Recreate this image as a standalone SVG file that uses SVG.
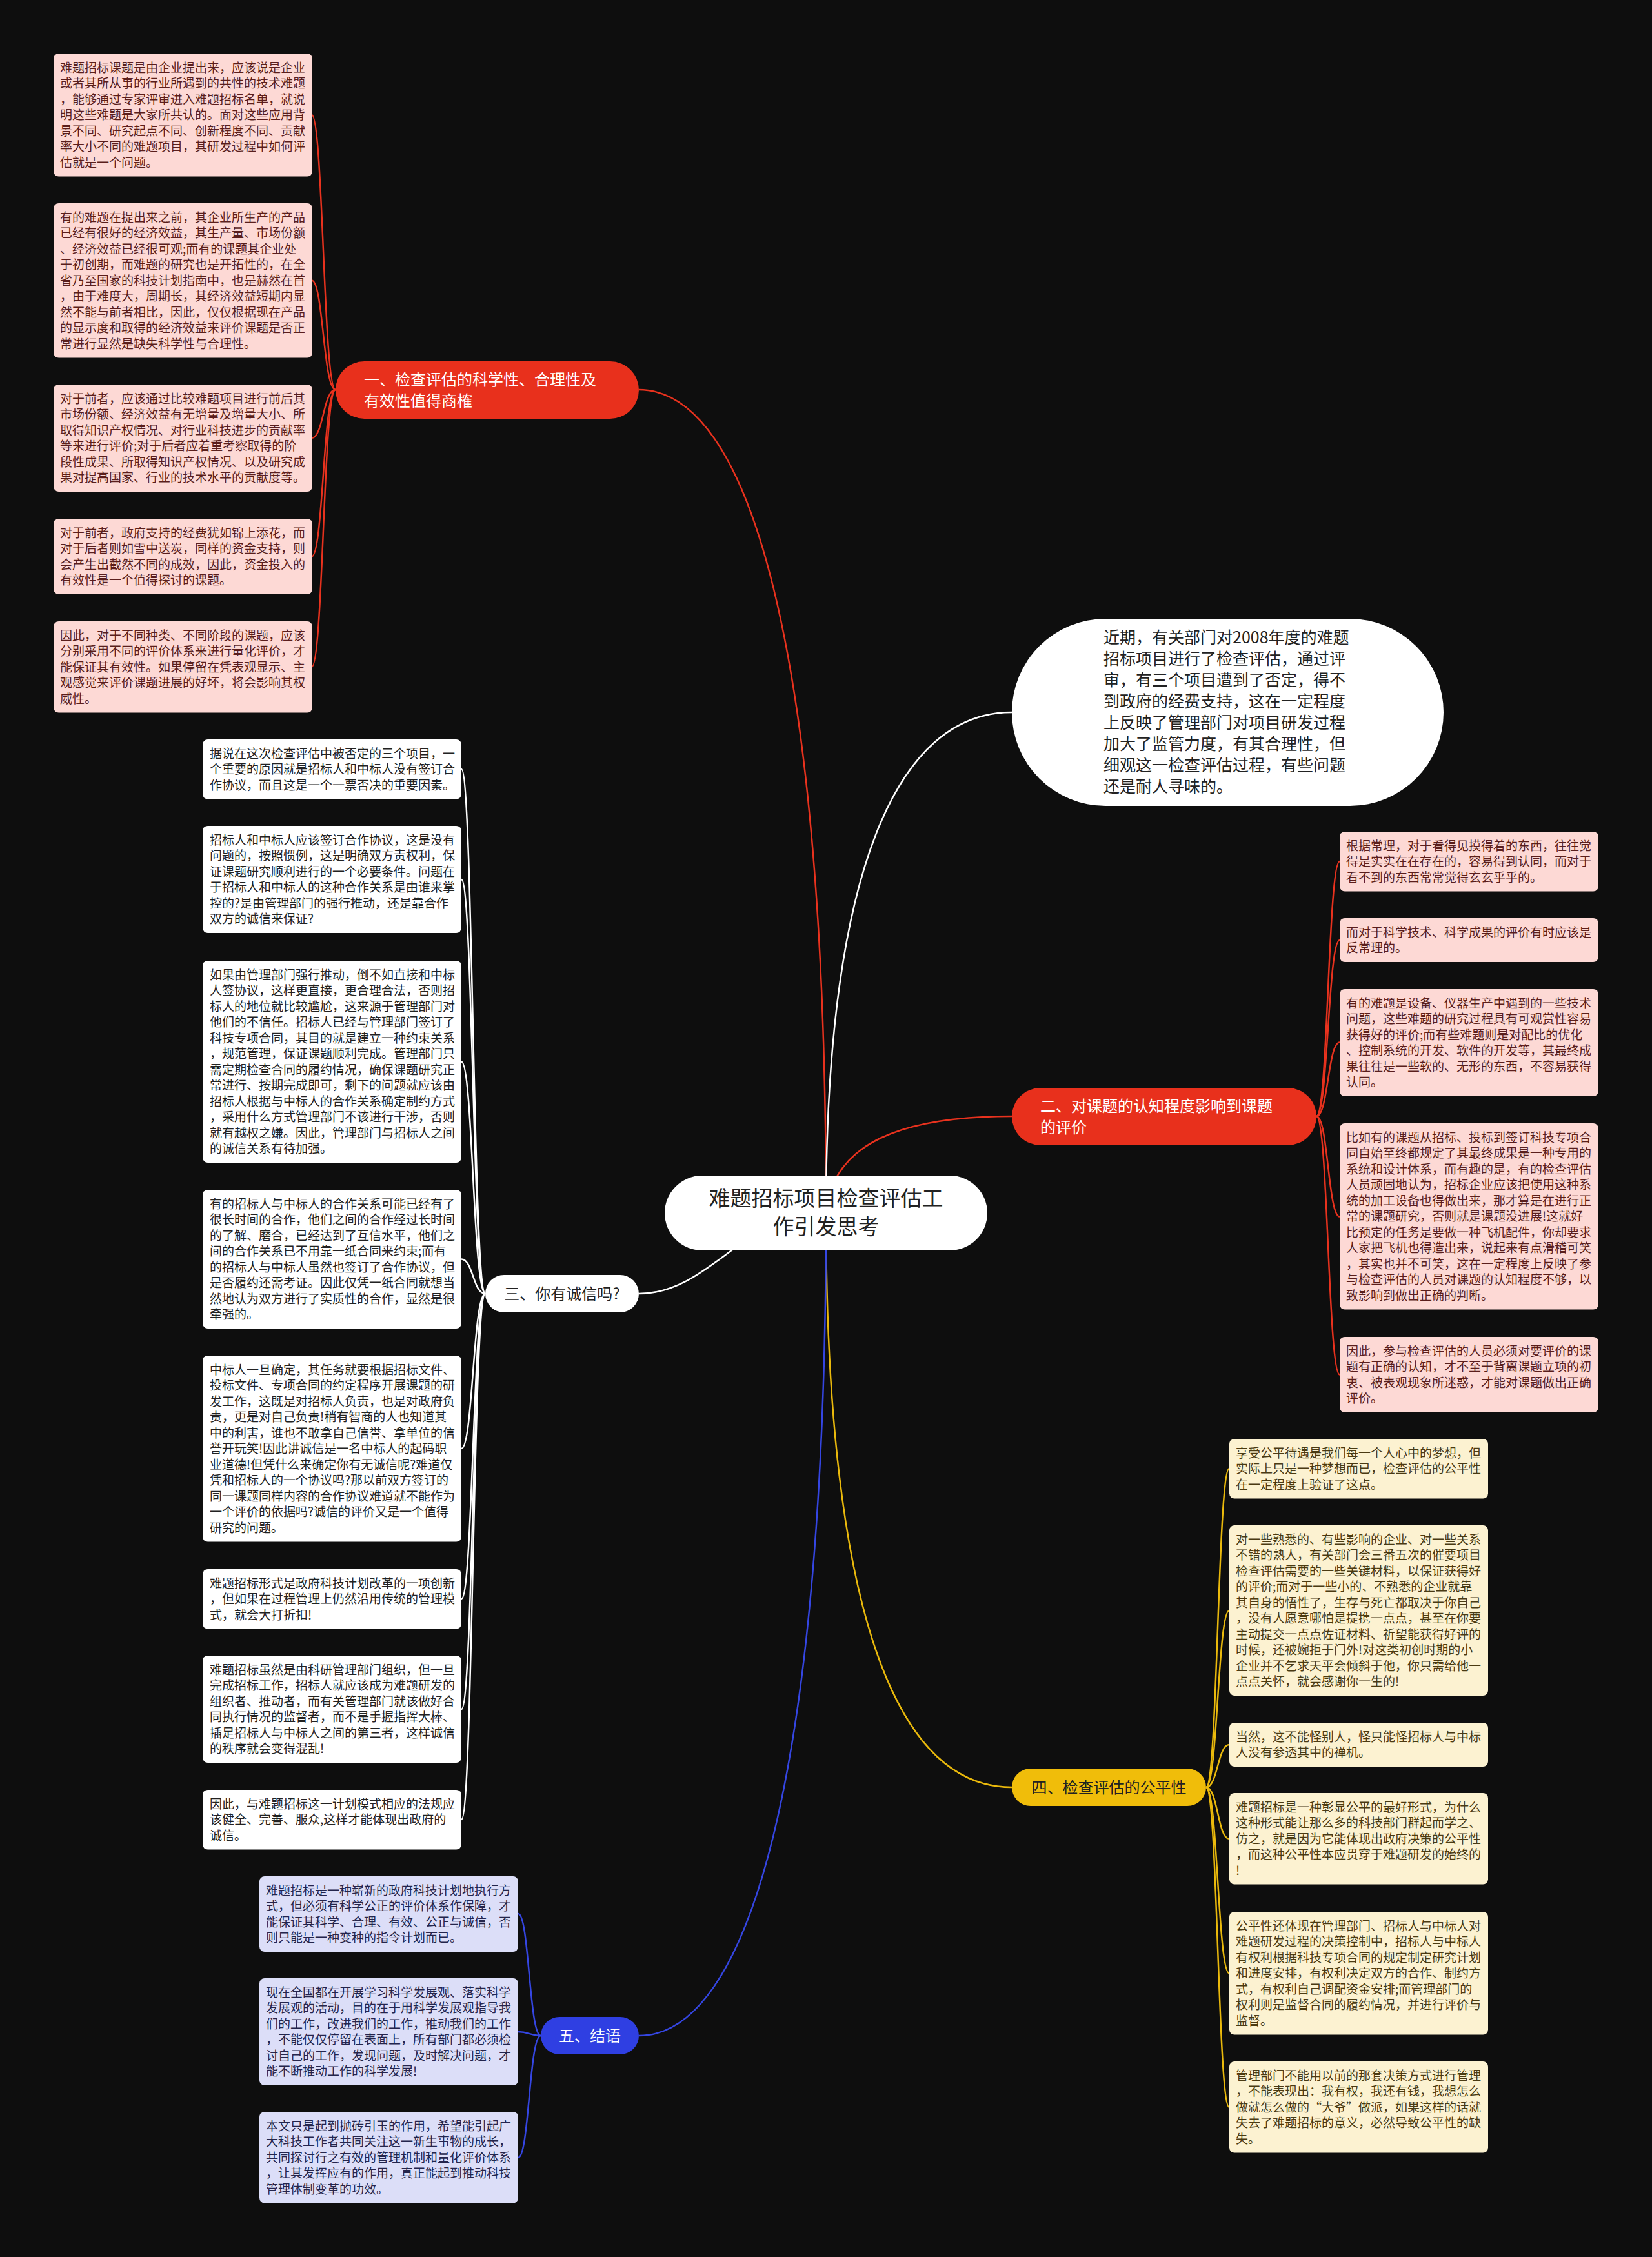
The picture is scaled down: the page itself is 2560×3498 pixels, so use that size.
<svg xmlns="http://www.w3.org/2000/svg" width="2560" height="3498" viewBox="0 0 2560 3498">
<style>
text{font-family:"Noto Sans CJK SC","Noto Sans",sans-serif}
.lt{font-size:19px}
.p{fill:#5a1e1c}.w{fill:#222222}.c{fill:#4a3a12}.b{fill:#24254c}
.rp{fill:#fdd9d5}.rw{fill:#ffffff}.rc{fill:#fcf2d1}.rb{fill:#dcdef8}
.cn path{fill:none;stroke-width:2.5}
.red{stroke:#e8321e}.wht{stroke:#ffffff}.yel{stroke:#eab90c}.blu{stroke:#3546e2}
.bt{font-size:24px}
</style>
<rect x="0" y="0" width="2560" height="3498" fill="#0e0e0e"/>
<g class="cn" id="connectors">
<path class="red" d="M1280 1880 C1280 1000,1160 604,990 604"/>
<path class="wht" d="M1280 1880 C1280 1350,1390 1104,1568 1104"/>
<path class="red" d="M1280 1880 C1290 1770,1400 1730,1568 1730"/>
<path class="wht" d="M1280 1880 C1150 1880,1100 2005,990 2005"/>
<path class="yel" d="M1280 1880 C1280 2500,1390 2770,1568 2770"/>
<path class="blu" d="M1280 1880 C1280 2750,1160 3155,990 3155"/>
<path class="red" d="M520 604 C501 604,501 178,483 178"/>
<path class="red" d="M520 604 C501 604,501 434.5,483 434.5"/>
<path class="red" d="M520 604 C501 604,501 679,483 679"/>
<path class="red" d="M520 604 C501 604,501 862.5,483 862.5"/>
<path class="red" d="M520 604 C501 604,501 1033.5,483 1033.5"/>
<path class="red" d="M2040 1730 C2058 1730,2058 1335,2076 1335"/>
<path class="red" d="M2040 1730 C2058 1730,2058 1457,2076 1457"/>
<path class="red" d="M2040 1730 C2058 1730,2058 1615.5,2076 1615.5"/>
<path class="red" d="M2040 1730 C2058 1730,2058 1885.5,2076 1885.5"/>
<path class="red" d="M2040 1730 C2058 1730,2058 2130.5,2076 2130.5"/>
<path class="wht" d="M752 2005 C733 2005,733 1192,715 1192"/>
<path class="wht" d="M752 2005 C733 2005,733 1363,715 1363"/>
<path class="wht" d="M752 2005 C733 2005,733 1645.5,715 1645.5"/>
<path class="wht" d="M752 2005 C733 2005,733 1951.5,715 1951.5"/>
<path class="wht" d="M752 2005 C733 2005,733 2245,715 2245"/>
<path class="wht" d="M752 2005 C733 2005,733 2478,715 2478"/>
<path class="wht" d="M752 2005 C733 2005,733 2649,715 2649"/>
<path class="wht" d="M752 2005 C733 2005,733 2820,715 2820"/>
<path class="yel" d="M1869 2770 C1887 2770,1887 2276,1905 2276"/>
<path class="yel" d="M1869 2770 C1887 2770,1887 2496,1905 2496"/>
<path class="yel" d="M1869 2770 C1887 2770,1887 2704,1905 2704"/>
<path class="yel" d="M1869 2770 C1887 2770,1887 2850,1905 2850"/>
<path class="yel" d="M1869 2770 C1887 2770,1887 3058.5,1905 3058.5"/>
<path class="yel" d="M1869 2770 C1887 2770,1887 3266,1905 3266"/>
<path class="blu" d="M838 3155 C820 3155,820 2966,803 2966"/>
<path class="blu" d="M838 3155 C820 3155,820 3149,803 3149"/>
<path class="blu" d="M838 3155 C820 3155,820 3344,803 3344"/>
</g>

<g id="center">
<rect x="1030" y="1822" width="500" height="116" rx="58" fill="#ffffff"/>
<text x="1280" y="1869" font-size="33" fill="#222" text-anchor="middle">难题招标项目检查评估工</text>
<text x="1280" y="1913" font-size="33" fill="#222" text-anchor="middle">作引发思考</text>
</g>

<g id="intro">
<rect x="1568" y="959" width="669" height="290" rx="145" fill="#ffffff"/>
<text font-size="25" fill="#222">
<tspan x="1710" y="997">近期，有关部门对2008年度的难题</tspan>
<tspan x="1710" dy="33">招标项目进行了检查评估，通过评</tspan>
<tspan x="1710" dy="33">审，有三个项目遭到了否定，得不</tspan>
<tspan x="1710" dy="33">到政府的经费支持，这在一定程度</tspan>
<tspan x="1710" dy="33">上反映了管理部门对项目研发过程</tspan>
<tspan x="1710" dy="33">加大了监管力度，有其合理性，但</tspan>
<tspan x="1710" dy="33">细观这一检查评估过程，有些问题</tspan>
<tspan x="1710" dy="33">还是耐人寻味的。</tspan>
</text>
</g>

<g id="branch1">
<rect x="520" y="560" width="470" height="89" rx="44.5" fill="#e8301c"/>
<text class="bt" fill="#ffffff"><tspan x="564" y="597">一、检查评估的科学性、合理性及</tspan><tspan x="564" dy="33">有效性值得商榷</tspan></text>
</g>
<g id="branch2">
<rect x="1568" y="1686" width="472" height="89" rx="44.5" fill="#e8301c"/>
<text class="bt" fill="#ffffff"><tspan x="1612" y="1723">二、对课题的认知程度影响到课题</tspan><tspan x="1612" dy="33">的评价</tspan></text>
</g>
<g id="branch3">
<rect x="752" y="1976" width="238" height="58" rx="29" fill="#ffffff"/>
<text class="bt" x="871" y="2013.5" fill="#222" text-anchor="middle">三、你有诚信吗?</text>
</g>
<g id="branch4">
<rect x="1568" y="2741" width="301" height="58" rx="29" fill="#f0bd0a"/>
<text class="bt" x="1718.5" y="2778.5" fill="#222" text-anchor="middle">四、检查评估的公平性</text>
</g>
<g id="branch5">
<rect x="838" y="3126" width="152" height="58" rx="29" fill="#2f3fe2"/>
<text class="bt" x="914" y="3163.5" fill="#ffffff" text-anchor="middle">五、结语</text>
</g>

<g id="b1-1"><rect class="rp" x="83" y="83" width="401" height="190.5" rx="8"/>
<text class="lt p"><tspan x="93" y="111.5">难题招标课题是由企业提出来，应该说是企业</tspan><tspan x="93" dy="24.5">或者其所从事的行业所遇到的共性的技术难题</tspan><tspan x="93" dy="24.5">，能够通过专家评审进入难题招标名单，就说</tspan><tspan x="93" dy="24.5">明这些难题是大家所共认的。面对这些应用背</tspan><tspan x="93" dy="24.5">景不同、研究起点不同、创新程度不同、贡献</tspan><tspan x="93" dy="24.5">率大小不同的难题项目，其研发过程中如何评</tspan><tspan x="93" dy="24.5">估就是一个问题。</tspan></text></g>
<g id="b1-2"><rect class="rp" x="83" y="315" width="401" height="239.5" rx="8"/>
<text class="lt p"><tspan x="93" y="343.5">有的难题在提出来之前，其企业所生产的产品</tspan><tspan x="93" dy="24.5">已经有很好的经济效益，其生产量、市场份额</tspan><tspan x="93" dy="24.5">、经济效益已经很可观;而有的课题其企业处</tspan><tspan x="93" dy="24.5">于初创期，而难题的研究也是开拓性的，在全</tspan><tspan x="93" dy="24.5">省乃至国家的科技计划指南中，也是赫然在首</tspan><tspan x="93" dy="24.5">，由于难度大，周期长，其经济效益短期内显</tspan><tspan x="93" dy="24.5">然不能与前者相比，因此，仅仅根据现在产品</tspan><tspan x="93" dy="24.5">的显示度和取得的经济效益来评价课题是否正</tspan><tspan x="93" dy="24.5">常进行显然是缺失科学性与合理性。</tspan></text></g>
<g id="b1-3"><rect class="rp" x="83" y="596" width="401" height="166" rx="8"/>
<text class="lt p"><tspan x="93" y="624.5">对于前者，应该通过比较难题项目进行前后其</tspan><tspan x="93" dy="24.5">市场份额、经济效益有无增量及增量大小、所</tspan><tspan x="93" dy="24.5">取得知识产权情况、对行业科技进步的贡献率</tspan><tspan x="93" dy="24.5">等来进行评价;对于后者应着重考察取得的阶</tspan><tspan x="93" dy="24.5">段性成果、所取得知识产权情况、以及研究成</tspan><tspan x="93" dy="24.5">果对提高国家、行业的技术水平的贡献度等。</tspan></text></g>
<g id="b1-4"><rect class="rp" x="83" y="804" width="401" height="117" rx="8"/>
<text class="lt p"><tspan x="93" y="832.5">对于前者，政府支持的经费犹如锦上添花，而</tspan><tspan x="93" dy="24.5">对于后者则如雪中送炭，同样的资金支持，则</tspan><tspan x="93" dy="24.5">会产生出截然不同的成效，因此，资金投入的</tspan><tspan x="93" dy="24.5">有效性是一个值得探讨的课题。</tspan></text></g>
<g id="b1-5"><rect class="rp" x="83" y="963" width="401" height="141.5" rx="8"/>
<text class="lt p"><tspan x="93" y="991.5">因此，对于不同种类、不同阶段的课题，应该</tspan><tspan x="93" dy="24.5">分别采用不同的评价体系来进行量化评价，才</tspan><tspan x="93" dy="24.5">能保证其有效性。如果停留在凭表观显示、主</tspan><tspan x="93" dy="24.5">观感觉来评价课题进展的好坏，将会影响其权</tspan><tspan x="93" dy="24.5">威性。</tspan></text></g>

<g id="b2-1"><rect class="rp" x="2076" y="1289" width="401" height="92.5" rx="8"/>
<text class="lt p"><tspan x="2086" y="1317.5">根据常理，对于看得见摸得着的东西，往往觉</tspan><tspan x="2086" dy="24.5">得是实实在在存在的，容易得到认同，而对于</tspan><tspan x="2086" dy="24.5">看不到的东西常常觉得玄玄乎乎的。</tspan></text></g>
<g id="b2-2"><rect class="rp" x="2076" y="1423" width="401" height="68" rx="8"/>
<text class="lt p"><tspan x="2086" y="1451.5">而对于科学技术、科学成果的评价有时应该是</tspan><tspan x="2086" dy="24.5">反常理的。</tspan></text></g>
<g id="b2-3"><rect class="rp" x="2076" y="1533" width="401" height="166" rx="8"/>
<text class="lt p"><tspan x="2086" y="1561.5">有的难题是设备、仪器生产中遇到的一些技术</tspan><tspan x="2086" dy="24.5">问题，这些难题的研究过程具有可观赏性容易</tspan><tspan x="2086" dy="24.5">获得好的评价;而有些难题则是对配比的优化</tspan><tspan x="2086" dy="24.5">、控制系统的开发、软件的开发等，其最终成</tspan><tspan x="2086" dy="24.5">果往往是一些软的、无形的东西，不容易获得</tspan><tspan x="2086" dy="24.5">认同。</tspan></text></g>
<g id="b2-4"><rect class="rp" x="2076" y="1741" width="401" height="288.5" rx="8"/>
<text class="lt p"><tspan x="2086" y="1769.5">比如有的课题从招标、投标到签订科技专项合</tspan><tspan x="2086" dy="24.5">同自始至终都规定了其最终成果是一种专用的</tspan><tspan x="2086" dy="24.5">系统和设计体系，而有趣的是，有的检查评估</tspan><tspan x="2086" dy="24.5">人员顽固地认为，招标企业应该把使用这种系</tspan><tspan x="2086" dy="24.5">统的加工设备也得做出来，那才算是在进行正</tspan><tspan x="2086" dy="24.5">常的课题研究，否则就是课题没进展!这就好</tspan><tspan x="2086" dy="24.5">比预定的任务是要做一种飞机配件，你却要求</tspan><tspan x="2086" dy="24.5">人家把飞机也得造出来，说起来有点滑稽可笑</tspan><tspan x="2086" dy="24.5">，其实也并不可笑，这在一定程度上反映了参</tspan><tspan x="2086" dy="24.5">与检查评估的人员对课题的认知程度不够，以</tspan><tspan x="2086" dy="24.5">致影响到做出正确的判断。</tspan></text></g>
<g id="b2-5"><rect class="rp" x="2076" y="2072" width="401" height="117" rx="8"/>
<text class="lt p"><tspan x="2086" y="2100.5">因此，参与检查评估的人员必须对要评价的课</tspan><tspan x="2086" dy="24.5">题有正确的认知，才不至于背离课题立项的初</tspan><tspan x="2086" dy="24.5">衷、被表观现象所迷惑，才能对课题做出正确</tspan><tspan x="2086" dy="24.5">评价。</tspan></text></g>

<g id="b3-1"><rect class="rw" x="314" y="1146" width="401" height="92.5" rx="8"/>
<text class="lt w"><tspan x="325" y="1174.5">据说在这次检查评估中被否定的三个项目，一</tspan><tspan x="325" dy="24.5">个重要的原因就是招标人和中标人没有签订合</tspan><tspan x="325" dy="24.5">作协议，而且这是一个一票否决的重要因素。</tspan></text></g>
<g id="b3-2"><rect class="rw" x="314" y="1280" width="401" height="166" rx="8"/>
<text class="lt w"><tspan x="325" y="1308.5">招标人和中标人应该签订合作协议，这是没有</tspan><tspan x="325" dy="24.5">问题的，按照惯例，这是明确双方责权利，保</tspan><tspan x="325" dy="24.5">证课题研究顺利进行的一个必要条件。问题在</tspan><tspan x="325" dy="24.5">于招标人和中标人的这种合作关系是由谁来掌</tspan><tspan x="325" dy="24.5">控的?是由管理部门的强行推动，还是靠合作</tspan><tspan x="325" dy="24.5">双方的诚信来保证?</tspan></text></g>
<g id="b3-3"><rect class="rw" x="314" y="1489" width="401" height="313" rx="8"/>
<text class="lt w"><tspan x="325" y="1517.5">如果由管理部门强行推动，倒不如直接和中标</tspan><tspan x="325" dy="24.5">人签协议，这样更直接，更合理合法，否则招</tspan><tspan x="325" dy="24.5">标人的地位就比较尴尬，这来源于管理部门对</tspan><tspan x="325" dy="24.5">他们的不信任。招标人已经与管理部门签订了</tspan><tspan x="325" dy="24.5">科技专项合同，其目的就是建立一种约束关系</tspan><tspan x="325" dy="24.5">，规范管理，保证课题顺利完成。管理部门只</tspan><tspan x="325" dy="24.5">需定期检查合同的履约情况，确保课题研究正</tspan><tspan x="325" dy="24.5">常进行、按期完成即可，剩下的问题就应该由</tspan><tspan x="325" dy="24.5">招标人根据与中标人的合作关系确定制约方式</tspan><tspan x="325" dy="24.5">，采用什么方式管理部门不该进行干涉，否则</tspan><tspan x="325" dy="24.5">就有越权之嫌。因此，管理部门与招标人之间</tspan><tspan x="325" dy="24.5">的诚信关系有待加强。</tspan></text></g>
<g id="b3-4"><rect class="rw" x="314" y="1844" width="401" height="215" rx="8"/>
<text class="lt w"><tspan x="325" y="1872.5">有的招标人与中标人的合作关系可能已经有了</tspan><tspan x="325" dy="24.5">很长时间的合作，他们之间的合作经过长时间</tspan><tspan x="325" dy="24.5">的了解、磨合，已经达到了互信水平，他们之</tspan><tspan x="325" dy="24.5">间的合作关系已不用靠一纸合同来约束;而有</tspan><tspan x="325" dy="24.5">的招标人与中标人虽然也签订了合作协议，但</tspan><tspan x="325" dy="24.5">是否履约还需考证。因此仅凭一纸合同就想当</tspan><tspan x="325" dy="24.5">然地认为双方进行了实质性的合作，显然是很</tspan><tspan x="325" dy="24.5">牵强的。</tspan></text></g>
<g id="b3-5"><rect class="rw" x="314" y="2101" width="401" height="288.5" rx="8"/>
<text class="lt w"><tspan x="325" y="2129.5">中标人一旦确定，其任务就要根据招标文件、</tspan><tspan x="325" dy="24.5">投标文件、专项合同的约定程序开展课题的研</tspan><tspan x="325" dy="24.5">发工作，这既是对招标人负责，也是对政府负</tspan><tspan x="325" dy="24.5">责，更是对自己负责!稍有智商的人也知道其</tspan><tspan x="325" dy="24.5">中的利害，谁也不敢拿自己信誉、拿单位的信</tspan><tspan x="325" dy="24.5">誉开玩笑!因此讲诚信是一名中标人的起码职</tspan><tspan x="325" dy="24.5">业道德!但凭什么来确定你有无诚信呢?难道仅</tspan><tspan x="325" dy="24.5">凭和招标人的一个协议吗?那以前双方签订的</tspan><tspan x="325" dy="24.5">同一课题同样内容的合作协议难道就不能作为</tspan><tspan x="325" dy="24.5">一个评价的依据吗?诚信的评价又是一个值得</tspan><tspan x="325" dy="24.5">研究的问题。</tspan></text></g>
<g id="b3-6"><rect class="rw" x="314" y="2432" width="401" height="92.5" rx="8"/>
<text class="lt w"><tspan x="325" y="2460.5">难题招标形式是政府科技计划改革的一项创新</tspan><tspan x="325" dy="24.5">，但如果在过程管理上仍然沿用传统的管理模</tspan><tspan x="325" dy="24.5">式，就会大打折扣!</tspan></text></g>
<g id="b3-7"><rect class="rw" x="314" y="2566" width="401" height="166" rx="8"/>
<text class="lt w"><tspan x="325" y="2594.5">难题招标虽然是由科研管理部门组织，但一旦</tspan><tspan x="325" dy="24.5">完成招标工作，招标人就应该成为难题研发的</tspan><tspan x="325" dy="24.5">组织者、推动者，而有关管理部门就该做好合</tspan><tspan x="325" dy="24.5">同执行情况的监督者，而不是手握指挥大棒、</tspan><tspan x="325" dy="24.5">插足招标人与中标人之间的第三者，这样诚信</tspan><tspan x="325" dy="24.5">的秩序就会变得混乱!</tspan></text></g>
<g id="b3-8"><rect class="rw" x="314" y="2774" width="401" height="92.5" rx="8"/>
<text class="lt w"><tspan x="325" y="2802.5">因此，与难题招标这一计划模式相应的法规应</tspan><tspan x="325" dy="24.5">该健全、完善、服众,这样才能体现出政府的</tspan><tspan x="325" dy="24.5">诚信。</tspan></text></g>

<g id="b4-1"><rect class="rc" x="1905" y="2230" width="401" height="92.5" rx="8"/>
<text class="lt c"><tspan x="1915" y="2258.5">享受公平待遇是我们每一个人心中的梦想，但</tspan><tspan x="1915" dy="24.5">实际上只是一种梦想而已，检查评估的公平性</tspan><tspan x="1915" dy="24.5">在一定程度上验证了这点。</tspan></text></g>
<g id="b4-2"><rect class="rc" x="1905" y="2364" width="401" height="264" rx="8"/>
<text class="lt c"><tspan x="1915" y="2392.5">对一些熟悉的、有些影响的企业、对一些关系</tspan><tspan x="1915" dy="24.5">不错的熟人，有关部门会三番五次的催要项目</tspan><tspan x="1915" dy="24.5">检查评估需要的一些关键材料，以保证获得好</tspan><tspan x="1915" dy="24.5">的评价;而对于一些小的、不熟悉的企业就靠</tspan><tspan x="1915" dy="24.5">其自身的悟性了，生存与死亡都取决于你自己</tspan><tspan x="1915" dy="24.5">，没有人愿意哪怕是提携一点点，甚至在你要</tspan><tspan x="1915" dy="24.5">主动提交一点点佐证材料、祈望能获得好评的</tspan><tspan x="1915" dy="24.5">时候，还被婉拒于门外!对这类初创时期的小</tspan><tspan x="1915" dy="24.5">企业并不乞求天平会倾斜于他，你只需给他一</tspan><tspan x="1915" dy="24.5">点点关怀，就会感谢你一生的!</tspan></text></g>
<g id="b4-3"><rect class="rc" x="1905" y="2670" width="401" height="68" rx="8"/>
<text class="lt c"><tspan x="1915" y="2698.5">当然，这不能怪别人，怪只能怪招标人与中标</tspan><tspan x="1915" dy="24.5">人没有参透其中的禅机。</tspan></text></g>
<g id="b4-4"><rect class="rc" x="1905" y="2779" width="401" height="141.5" rx="8"/>
<text class="lt c"><tspan x="1915" y="2807.5">难题招标是一种彰显公平的最好形式，为什么</tspan><tspan x="1915" dy="24.5">这种形式能让那么多的科技部门群起而学之、</tspan><tspan x="1915" dy="24.5">仿之，就是因为它能体现出政府决策的公平性</tspan><tspan x="1915" dy="24.5">，而这种公平性本应贯穿于难题研发的始终的</tspan><tspan x="1915" dy="24.5">!</tspan></text></g>
<g id="b4-5"><rect class="rc" x="1905" y="2963" width="401" height="190.5" rx="8"/>
<text class="lt c"><tspan x="1915" y="2991.5">公平性还体现在管理部门、招标人与中标人对</tspan><tspan x="1915" dy="24.5">难题研发过程的决策控制中，招标人与中标人</tspan><tspan x="1915" dy="24.5">有权利根据科技专项合同的规定制定研究计划</tspan><tspan x="1915" dy="24.5">和进度安排，有权利决定双方的合作、制约方</tspan><tspan x="1915" dy="24.5">式，有权利自己调配资金安排;而管理部门的</tspan><tspan x="1915" dy="24.5">权利则是监督合同的履约情况，并进行评价与</tspan><tspan x="1915" dy="24.5">监督。</tspan></text></g>
<g id="b4-6"><rect class="rc" x="1905" y="3195" width="401" height="141.5" rx="8"/>
<text class="lt c"><tspan x="1915" y="3223.5">管理部门不能用以前的那套决策方式进行管理</tspan><tspan x="1915" dy="24.5">，不能表现出：我有权，我还有钱，我想怎么</tspan><tspan x="1915" dy="24.5">做就怎么做的“大爷”做派，如果这样的话就</tspan><tspan x="1915" dy="24.5">失去了难题招标的意义，必然导致公平性的缺</tspan><tspan x="1915" dy="24.5">失。</tspan></text></g>

<g id="b5-1"><rect class="rb" x="402" y="2908" width="401" height="117" rx="8"/>
<text class="lt b"><tspan x="412" y="2936.5">难题招标是一种崭新的政府科技计划地执行方</tspan><tspan x="412" dy="24.5">式，但必须有科学公正的评价体系作保障，才</tspan><tspan x="412" dy="24.5">能保证其科学、合理、有效、公正与诚信，否</tspan><tspan x="412" dy="24.5">则只能是一种变种的指令计划而已。</tspan></text></g>
<g id="b5-2"><rect class="rb" x="402" y="3066" width="401" height="166" rx="8"/>
<text class="lt b"><tspan x="412" y="3094.5">现在全国都在开展学习科学发展观、落实科学</tspan><tspan x="412" dy="24.5">发展观的活动，目的在于用科学发展观指导我</tspan><tspan x="412" dy="24.5">们的工作，改进我们的工作，推动我们的工作</tspan><tspan x="412" dy="24.5">，不能仅仅停留在表面上，所有部门都必须检</tspan><tspan x="412" dy="24.5">讨自己的工作，发现问题，及时解决问题，才</tspan><tspan x="412" dy="24.5">能不断推动工作的科学发展!</tspan></text></g>
<g id="b5-3"><rect class="rb" x="402" y="3273" width="401" height="141.5" rx="8"/>
<text class="lt b"><tspan x="412" y="3301.5">本文只是起到抛砖引玉的作用，希望能引起广</tspan><tspan x="412" dy="24.5">大科技工作者共同关注这一新生事物的成长，</tspan><tspan x="412" dy="24.5">共同探讨行之有效的管理机制和量化评价体系</tspan><tspan x="412" dy="24.5">，让其发挥应有的作用，真正能起到推动科技</tspan><tspan x="412" dy="24.5">管理体制变革的功效。</tspan></text></g>
</svg>
